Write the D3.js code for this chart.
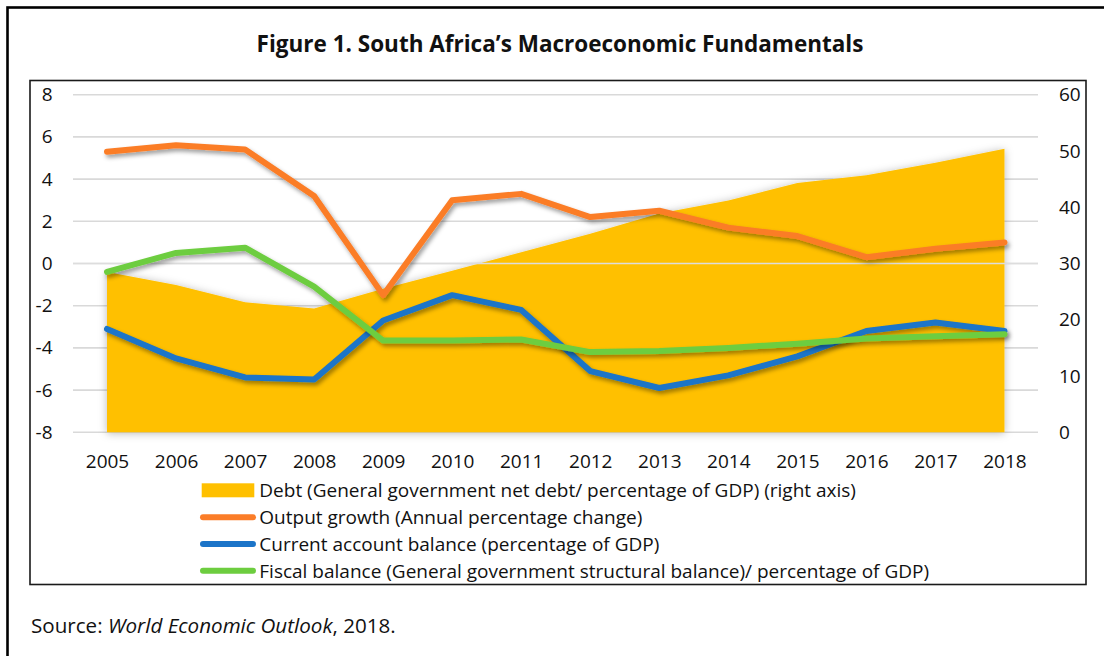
<!DOCTYPE html>
<html>
<head>
<meta charset="utf-8">
<script src="https://cdn.jsdelivr.net/npm/d3@7"></script>
<style>
  html, body { margin: 0; padding: 0; background: #ffffff; }
  svg { display: block; }
  text { font-family: "Open Sans", "Noto Sans", sans-serif; fill: #111; }
</style>
</head>
<body>
<svg id="chart" width="1104" height="656"></svg>
<script>
// Years on the category axis
const years = ["2005","2006","2007","2008","2009","2010","2011","2012","2013","2014","2015","2016","2017","2018"];

// General government net debt, % of GDP (right axis)
const debt = [28.5, 26.2, 23.1, 22.0, 25.5, 28.7, 32.0, 35.3, 38.9, 41.2, 44.3, 45.7, 47.9, 50.4];

// Output growth, annual % change (left axis)
const outputGrowth = [5.3, 5.6, 5.4, 3.2, -1.5, 3.0, 3.3, 2.2, 2.5, 1.7, 1.3, 0.3, 0.7, 1.0];

// Current account balance, % of GDP (left axis)
const currentAccount = [-3.1, -4.5, -5.4, -5.5, -2.7, -1.5, -2.2, -5.1, -5.9, -5.3, -4.4, -3.2, -2.8, -3.2];

// Structural fiscal balance, % of GDP (left axis)
const fiscalBalance = [-0.4, 0.5, 0.75, -1.1, -3.65, -3.65, -3.6, -4.2, -4.15, -4.0, -3.8, -3.55, -3.45, -3.35];

// Axis ticks
const leftTicks = [-8, -6, -4, -2, 0, 2, 4, 6, 8];
const rightTicks = [0, 10, 20, 30, 40, 50, 60];

const legendLabels = [
  "Debt (General government net debt/ percentage of GDP) (right axis)",
  "Output growth (Annual percentage change)",
  "Current account balance (percentage of GDP)",
  "Fiscal balance (General government structural balance)/ percentage of GDP)"
];

const colors = {
  debt: "#FFC000",
  output: "#FB7D28",
  current: "#1B74C8",
  fiscal: "#6DCD3F"
};

const svg = d3.select("#chart");

// Shadow filters
const defs = svg.append("defs");
const lineShadow = defs.append("filter").attr("id", "lineShadow")
  .attr("x", "-10%").attr("y", "-20%").attr("width", "120%").attr("height", "140%");
lineShadow.append("feDropShadow")
  .attr("dx", 2).attr("dy", 3).attr("stdDeviation", 2.2)
  .attr("flood-color", "#000").attr("flood-opacity", 0.38);
const areaShadow = defs.append("filter").attr("id", "areaShadow")
  .attr("x", "-10%").attr("y", "-20%").attr("width", "120%").attr("height", "140%");
areaShadow.append("feDropShadow")
  .attr("dx", 0).attr("dy", 1).attr("stdDeviation", 4)
  .attr("flood-color", "#000").attr("flood-opacity", 0.28);

// Outer frame (runs off the right and bottom of the page)
svg.append("rect")
  .attr("x", 7.5).attr("y", 7.5).attr("width", 1120).attr("height", 700)
  .attr("fill", "none").attr("stroke", "#000").attr("stroke-width", 2.6);

// Title
svg.append("text")
  .attr("x", 560).attr("y", 52)
  .attr("text-anchor", "middle")
  .style("font-weight", "700").style("font-size", "22.5px")
  .text("Figure 1. South Africa\u2019s Macroeconomic Fundamentals");

// Chart box
svg.append("rect")
  .attr("x", 30).attr("y", 80.5).attr("width", 1056).attr("height", 504)
  .attr("fill", "none").attr("stroke", "#1a1a1a").attr("stroke-width", 1.6);

// Scales
const x = d3.scalePoint().domain(years).range([72.5, 1039]).padding(0.5);
const yLeft = d3.scaleLinear().domain([-8, 8]).range([432.3, 94.7]);
const yRight = d3.scaleLinear().domain([0, 60]).range([432.3, 94.7]);

// Gridlines on left-axis ticks
const grid = svg.append("g");
grid.selectAll("line").data(leftTicks).join("line")
  .attr("x1", 73).attr("x2", 1038)
  .attr("y1", d => yLeft(d)).attr("y2", d => yLeft(d))
  .attr("stroke", "#D9D9D9").attr("stroke-width", 1.6);

// Debt area
const area = d3.area()
  .x((d, i) => x(years[i]))
  .y0(yRight(0))
  .y1(d => yRight(d));
svg.append("path")
  .datum(debt)
  .attr("d", area)
  .attr("fill", colors.debt)
  .attr("filter", "url(#areaShadow)");

// Zero line sits over the area
svg.append("line")
  .attr("x1", 73).attr("x2", 1038)
  .attr("y1", yLeft(0)).attr("y2", yLeft(0))
  .attr("stroke", "#DDDDDD").attr("stroke-width", 1.6);

// Left-axis line series
const line = d3.line()
  .x((d, i) => x(years[i]))
  .y(d => yLeft(d));

[[currentAccount, colors.current], [fiscalBalance, colors.fiscal], [outputGrowth, colors.output]]
  .forEach(([vals, col]) => {
    svg.append("path")
      .datum(vals)
      .attr("d", line)
      .attr("fill", "none")
      .attr("stroke", col)
      .attr("stroke-width", 6)
      .attr("stroke-linejoin", "round")
      .attr("stroke-linecap", "round")
      .attr("filter", "url(#lineShadow)");
  });

const tickFont = "19px";
const plainNumber = d => String(d);

// Left axis
const leftAxis = svg.append("g")
  .attr("transform", "translate(52.5,0)")
  .call(d3.axisLeft(yLeft).tickValues(leftTicks).tickSize(0).tickPadding(0).tickFormat(plainNumber));
leftAxis.select(".domain").remove();
leftAxis.selectAll("text").style("font-size", tickFont).attr("fill", "#111")
  .style("font-family", "\"Open Sans\", sans-serif");

// Right axis
const rightAxis = svg.append("g")
  .attr("transform", "translate(1059,0)")
  .call(d3.axisRight(yRight).tickValues(rightTicks).tickSize(0).tickPadding(0).tickFormat(plainNumber));
rightAxis.select(".domain").remove();
rightAxis.selectAll("text").style("font-size", tickFont).attr("fill", "#111")
  .style("font-family", "\"Open Sans\", sans-serif");

// Category axis labels
const bottomAxis = svg.append("g")
  .attr("transform", "translate(0,468.3)")
  .call(d3.axisBottom(x).tickSize(0).tickPadding(0));
bottomAxis.select(".domain").remove();
bottomAxis.selectAll("text").style("font-size", tickFont).attr("fill", "#111")
  .attr("y", 0).attr("dy", 0)
  .style("font-family", "\"Open Sans\", sans-serif");

// Legend
const legend = svg.append("g");
const rowY = [490.3, 517.3, 544, 570.7];
legend.append("rect")
  .attr("x", 201.7).attr("y", rowY[0] - 7).attr("width", 52.6).attr("height", 14)
  .attr("fill", colors.debt);
[colors.output, colors.current, colors.fiscal].forEach((col, i) => {
  legend.append("line")
    .attr("x1", 203).attr("x2", 253)
    .attr("y1", rowY[i + 1]).attr("y2", rowY[i + 1])
    .attr("stroke", col).attr("stroke-width", 6).attr("stroke-linecap", "round");
});
legend.selectAll("text.lg").data(legendLabels).join("text")
  .attr("class", "lg")
  .attr("x", 259.3)
  .attr("y", (d, i) => rowY[i] + 7)
  .style("font-size", "19px")
  .text(d => d);

// Source note
const src = svg.append("text")
  .attr("x", 31).attr("y", 633)
  .style("font-size", "20.6px");
src.append("tspan").text("Source: ");
src.append("tspan").style("font-style", "italic").text("World Economic Outlook");
src.append("tspan").text(", 2018.");
</script>
</body>
</html>
